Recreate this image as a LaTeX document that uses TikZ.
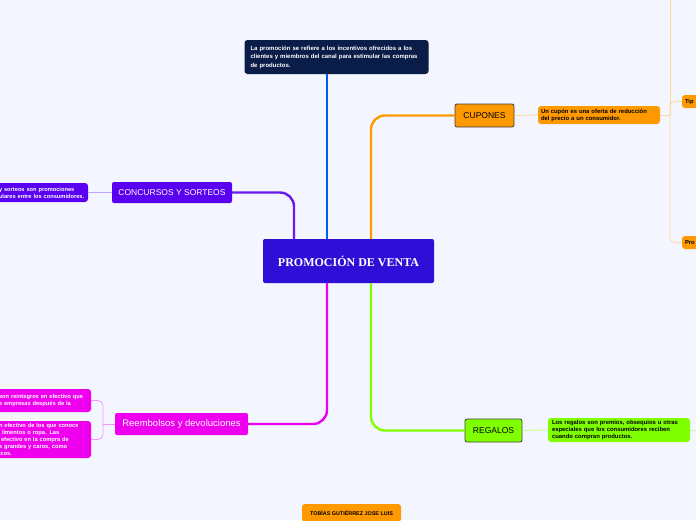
\documentclass[tikz,border=0pt]{standalone}
\usepackage{fontspec}
\setmainfont{Liberation Sans}
\newfontfamily\titlefont{Liberation Serif}
\usetikzlibrary{positioning}

\definecolor{fondo}{RGB}{243,246,254}
\definecolor{centro}{RGB}{47,14,216}
\definecolor{marino}{RGB}{10,28,72}
\definecolor{azul}{RGB}{0,90,255}
\definecolor{violeta}{RGB}{90,0,240}
\definecolor{naranja}{RGB}{255,153,0}
\definecolor{lima}{RGB}{128,255,0}
\definecolor{fucsia}{RGB}{238,0,238}
\definecolor{lvioleta}{RGB}{190,165,250}
\definecolor{lnaranja}{RGB}{255,215,160}
\definecolor{llima}{RGB}{200,255,140}
\definecolor{lfucsia}{RGB}{245,150,245}

\tikzset{
  topic/.style={rounded corners=2pt, inner sep=0pt, align=center,
    font=\fontsize{8.5}{10}\selectfont},
  note/.style={rounded corners=3pt, inner xsep=3pt, inner ysep=1pt, align=left,
    font=\fontsize{5.7}{7}\selectfont\bfseries},
  rama/.style={line width=2.4pt, rounded corners=14pt},
  hilo/.style={line width=0.8pt, rounded corners=5pt},
}

\begin{document}
\begin{tikzpicture}[x=1pt, y=-1pt]
	\useasboundingbox (0,0) rectangle (696,520);
	\fill[fondo] (0,0) rectangle (696,520);

	% centre and main topics
	\node[topic, fill=centro, text=white, minimum width=171pt, minimum height=44pt,
		font=\titlefont\bfseries\fontsize{12}{14}\selectfont] (venta) at (348.5,261) {PROMOCIÓN DE VENTA};
	\node[note, fill=marino, text=white, text width=172pt, inner xsep=6pt, minimum height=34pt,
		font=\fontsize{6}{8.5}\selectfont\bfseries] (def) at (336.5,57)
		{La promoción se refiere a los incentivos ofrecidos a los\\clientes y miembros del canal para estimular las compras\\de productos.};
	\node[topic, fill=violeta, text=white, minimum width=120pt, minimum height=21pt] (concursos) at (172,192.5) {CONCURSOS Y SORTEOS};
	\node[topic, fill=naranja, draw=black!75, line width=0.8pt, minimum width=59pt, minimum height=23pt] (cupones) at (484.5,115.5) {CUPONES};
	\node[topic, fill=lima, draw=black!75, line width=0.8pt, minimum width=57pt, minimum height=23pt] (regalos) at (493.5,430.5) {REGALOS};
	\node[topic, fill=fucsia, text=white, minimum width=133pt, minimum height=22pt,
		font=\fontsize{9.5}{11}\selectfont] (reembolsos) at (181.5,424) {Reembolsos y devoluciones};

	% notes
	\node[note, fill=violeta, text=white, text width=86pt, minimum height=19pt] (sorteos) at (42,192.5)
		{y sorteos son promociones\\ulares entre los consumidores.};
	\node[note, fill=naranja, text width=116pt, minimum height=18pt, font=\fontsize{5.9}{7}\selectfont\bfseries] (cupon) at (599,115)
		{Un cupón es una oferta de reducción\\del precio a un consumidor.};
	\node[note, fill=naranja, text width=20pt, minimum height=13pt, font=\fontsize{5.8}{7}\selectfont\bfseries] (tipos) at (695,101.5) {Tip};
	\node[note, fill=naranja, text width=20pt, minimum height=13pt, font=\fontsize{5.8}{7}\selectfont\bfseries] (pro) at (695,242.5) {Pro};
	\node[note, fill=lima, text width=134pt, inner xsep=4pt, minimum height=24pt, font=\fontsize{5.9}{7}\selectfont\bfseries] (obsequios) at (619,430)
		{Los regalos son premios, obsequios u otras\\especiales que los consumidores reciben\\cuando compran productos.};
	\node[note, fill=fucsia, text=white, text width=89pt, minimum height=23pt] (reintegros) at (43.5,400.5)
		{son reintegros en efectivo que\\e empresas después de la};
	\node[note, fill=fucsia, text=white, text width=89pt, minimum height=37pt, font=\fontsize{5.7}{6.8}\selectfont\bfseries] (rebajas) at (43.5,439.5)
		{n efectivo de los que conoce\\\hspace*{3pt}limentos o ropa. Las\\\hspace*{2pt}efectivo en la compra de\\s grandes y caros, como\\icos.};
	\node[note, fill=naranja, minimum width=99pt, minimum height=18pt, align=center, font=\fontsize{5.4}{6}\selectfont\bfseries] (autor) at (351.5,513)
		{TOBÍAS GUTIÉRREZ JOSE LUIS};

	% main branches
	\draw[rama, azul] ([xshift=-21.5pt]venta.north) -- ([xshift=-21.5pt]venta.north |- def.south);
	\draw[rama, violeta!90!white] ([xshift=-54.5pt]venta.north) |- (concursos.east);
	\draw[rama, naranja] ([xshift=22.5pt]venta.north) |- (cupones.west);
	\draw[rama, lima] ([xshift=22.5pt]venta.south) |- (regalos.west);
	\draw[rama, fucsia] ([xshift=-21.5pt]venta.south) |- (reembolsos.east);

	% small branches
	\coordinate (jcup) at (670,115);
	\coordinate (arriba) at (670,-5);
	\coordinate (salida) at (700,430);
	\coordinate (jre) at (103,420);
	\draw[hilo, lvioleta] (concursos.west) -- (sorteos.east);
	\draw[hilo, lnaranja] (cupones.east) -- (cupon.west);
	\draw[hilo, lnaranja] (cupon.east) -- (jcup);
	\draw[hilo, lnaranja] (jcup) |- (tipos.west);
	\draw[hilo, lnaranja] (jcup) |- (pro.west);
	\draw[hilo, lnaranja] (jcup) -- (arriba);
	\draw[hilo, llima] (regalos.east) -- (obsequios.west);
	\draw[hilo, llima] (obsequios.east) -- (salida);
	\draw[hilo, lfucsia] (reembolsos.west) -- (reembolsos.west -| jre);
	\draw[hilo, lfucsia] (reembolsos.west -| jre) |- (reintegros.east);
	\draw[hilo, lfucsia] (reembolsos.west -| jre) |- (rebajas.east);
\end{tikzpicture}
\end{document}
